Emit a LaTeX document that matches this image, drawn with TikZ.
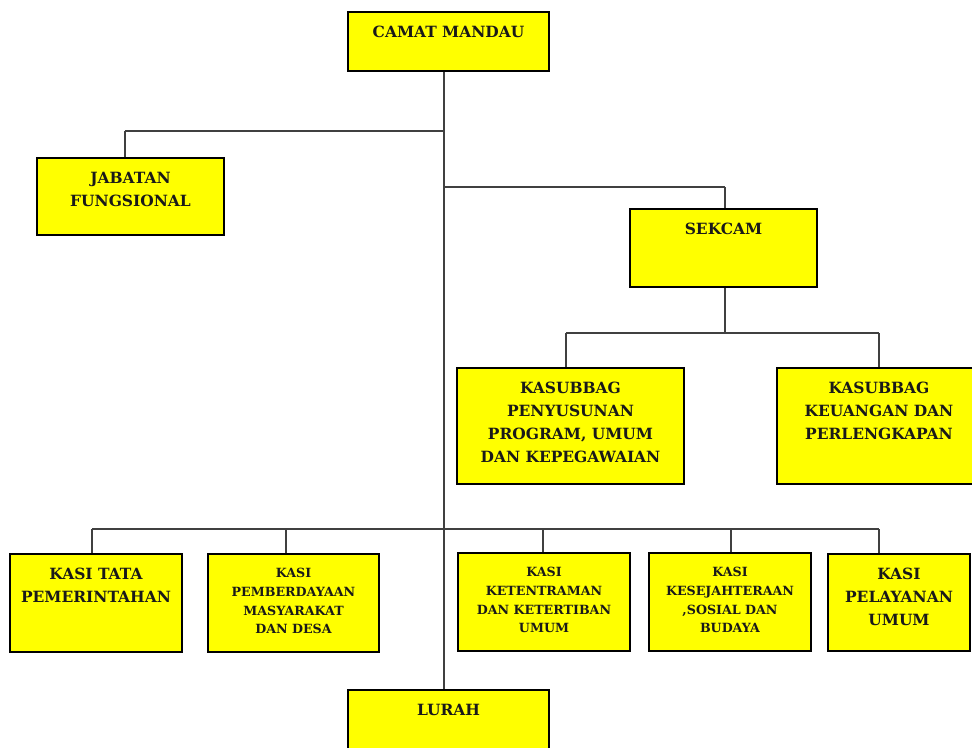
\documentclass[tikz,border=0pt]{standalone}
\usepackage{fontspec}
\setmainfont{DejaVu Serif}
\usetikzlibrary{fit}

\definecolor{kuning}{RGB}{255,255,0}
\definecolor{abu}{RGB}{64,64,64}

\tikzset{
	kotak/.style={draw=black, line width=1pt, fill=kuning, inner sep=0pt},
	judul/.style={anchor=north, align=center, inner sep=0pt, yshift=-8.3pt, text=black!90, font=\bfseries\fontsize{8.8}{13}\selectfont},
	kecil/.style={font=\bfseries\fontsize{7.2}{10.7}\selectfont},
	garis/.style={draw=abu, line width=1.1pt},
}

\begin{document}
\begin{tikzpicture}[x=0.02cm, y=-0.02cm]
			\useasboundingbox (0,0) rectangle (972,747);
			\clip (0,0) rectangle (972,747);
			% titik cabang
			\coordinate (batang) at (444,131);
			\coordinate (cabjab) at (125,131);
			\coordinate (cabsek) at (444,187);
			\coordinate (tsek)   at (725,187);
			\coordinate (cabsub) at (725,333);
			\coordinate (tsubA)  at (566,333);
			\coordinate (tsubB)  at (879,333);
			\coordinate (bus)    at (444,529);
			\coordinate (ttata)  at (92,529);
			\coordinate (tdaya)  at (286,529);
			\coordinate (ttram)  at (543,529);
			\coordinate (tsej)   at (731,529);
			\coordinate (tlay)   at (879,529);
			% garis
			\draw[garis] (batang) -- (cabjab);
			\draw[garis] (cabsek) -- (tsek);
			\draw[garis] (tsubA) -- (tsubB);
			\draw[garis] (ttata) -- (tlay);
			% kotak
			\node[kotak, fit={(348,12) (549,71)},   label={[judul]north:CAMAT MANDAU}] (camat) {};
			\node[kotak, fit={(37,158) (224,235)},  label={[judul]north:{JABATAN\\FUNGSIONAL}}] (jabatan) {};
			\node[kotak, fit={(630,209) (817,287)}, label={[judul]north:SEKCAM}] (sekcam) {};
			\node[kotak, fit={(457,368) (684,484)}, label={[judul]north:{KASUBBAG\\PENYUSUNAN\\PROGRAM, UMUM\\DAN KEPEGAWAIAN}}] (subA) {};
			\node[kotak, fit={(777,368) (981,484)}, label={[judul]north:{KASUBBAG\\KEUANGAN DAN\\PERLENGKAPAN}}] (subB) {};
			\node[kotak, fit={(10,554) (182,652)},  label={[judul]north:{KASI TATA\\PEMERINTAHAN}}] (tata) {};
			\node[kotak, fit={(208,554) (379,652)}, label={[judul,kecil]north:{KASI\\PEMBERDAYAAN\\MASYARAKAT\\DAN DESA}}] (daya) {};
			\node[kotak, fit={(458,553) (630,651)}, label={[judul,kecil]north:{KASI\\KETENTRAMAN\\DAN KETERTIBAN\\UMUM}}] (tram) {};
			\node[kotak, fit={(649,553) (811,651)}, label={[judul,kecil]north:{KASI\\KESEJAHTERAAN\\,SOSIAL DAN\\BUDAYA}}] (sej) {};
			\node[kotak, fit={(828,554) (970,651)}, label={[judul]north:{KASI\\PELAYANAN\\UMUM}}] (lay) {};
			\node[kotak, fit={(348,690) (549,765)}, label={[judul]north:LURAH}] (lurah) {};
			% penghubung
			\draw[garis] (camat.south -| batang) -- (lurah.north -| batang);
			\draw[garis] (cabjab) -- (cabjab |- jabatan.north);
			\draw[garis] (tsek) -- (tsek |- sekcam.north);
			\draw[garis] (sekcam.south -| cabsub) -- (cabsub);
			\draw[garis] (tsubA) -- (tsubA |- subA.north);
			\draw[garis] (tsubB) -- (tsubB |- subB.north);
			\draw[garis] (ttata) -- (ttata |- tata.north);
			\draw[garis] (tdaya) -- (tdaya |- daya.north);
			\draw[garis] (ttram) -- (ttram |- tram.north);
			\draw[garis] (tsej) -- (tsej |- sej.north);
			\draw[garis] (tlay) -- (tlay |- lay.north);
		\end{tikzpicture}
\end{document}
